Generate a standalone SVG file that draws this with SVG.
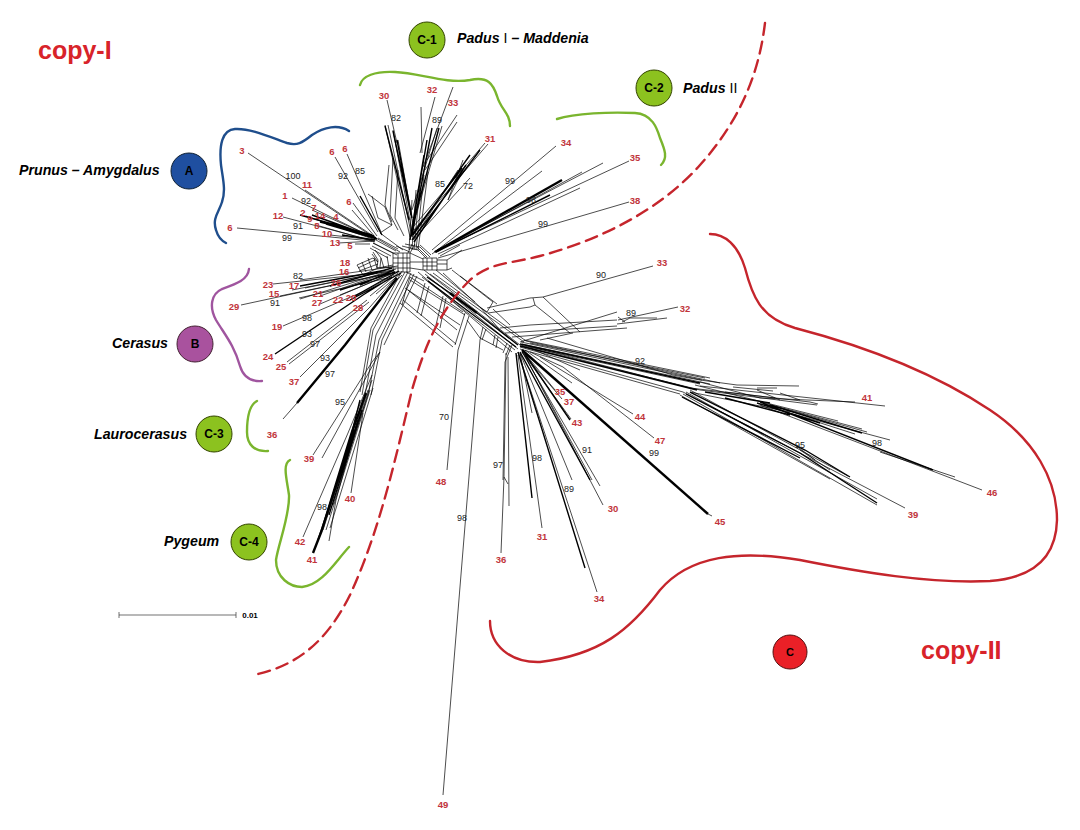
<svg xmlns="http://www.w3.org/2000/svg" width="1080" height="830" viewBox="0 0 1080 830">
<style>
text{font-family:"Liberation Sans",Arial,sans-serif}
.r{fill:#c1353b;font-size:9.5px;font-weight:bold;text-anchor:middle}
.k{fill:#222;font-size:9px;text-anchor:middle}
.n{fill:#000;font-size:14.2px;font-weight:bold;font-style:italic}
.b{fill:#000;font-size:12px;font-weight:bold;text-anchor:middle}
.cp{fill:#d8232a;font-size:25px;font-weight:bold}
.c{stroke:#333;stroke-width:.7}
.w{fill:none;stroke:#000;stroke-width:.7}
.m{fill:none;stroke:#000;stroke-width:1.4}
.h{fill:none;stroke:#000;stroke-width:2.4}
.cv{fill:none;stroke-width:2.4;stroke-linecap:round}
</style>
<rect width="1080" height="830" fill="#fff"/>
<g id="connectors">
<!-- A bundle -->
<path class="w" d="M248 153L373 237M305 190L376 238M292 198L372 237M312 210L377 239M306 216L376 240M283 217L374 241M237 228L372 241M316 225L375 242M330 235L375 240M338 243L375 241M355 244L370 244M335 157L378 232M347 154L381 232M353 203L377 236M352 210L376 238M368 194L385 207L392 225L380 233M372 196L378 218L392 225M380 233L403 250M376 238L400 252M373 243L397 255"/>
<path class="m" d="M360 196L382 235M312 215L376 238M326 224L377 239M342 235L375 240M320 222L374 236M300 215L372 235"/>
<!-- C-1 -->
<path class="w" d="M387 100L397 143M385 125L410 237M388 125L412 237M393 130L413 237M398 140L414 230M389 165L385 205L392 222M393 158L390 215L398 230M398 170L395 218L404 236M412 200L409 250M416 190L412 250M420 185L414 250M424 175L416 250M428 172L418 250M421 107L422 153M435 97L420 153M453 87L423 167M457 115L427 160M457 122L425 170M437 128L412 210M442 126L416 215"/>
<path class="m" d="M385 126L409 220M393 131L411 215M397 140L412 218M432 128L412 235M439 128L414 220M427 140L411 235M424 155L410 240"/>
<path class="w" d="M485 143L413 227M488 144L414 230M470 178L413 240M463 160L448 200M463 170L448 200M458 170L414 238"/>
<path class="m" d="M480 150L412 240M466 165L414 242M462 168L411 236M470 155L413 235"/>
<!-- C-2 -->
<path class="w" d="M556 146L432 250M542 171L432 254M629 161L434 252M603 163L437 250M582 172L436 252M580 188L438 254M629 202L438 258"/>
<path class="h" d="M562 180L435 252"/>
<path class="m" d="M550 195L436 252"/>
<!-- hub -->
<path class="w" d="M393 253H410V272H393ZM393 258H410M393 263H410M393 268H410M398 253V272M403 253V272M407 253V272M423 258H437V270H423ZM423 262H437M423 266H437M427 258V270M432 258V270M437 260L447 260V270L437 270M437 264H447"/>
<path class="w" d="M373 243L393 253M376 240L396 251M378 238L398 249M372 246L391 256M370 248L388 258M373 252L378 260L377 268L393 267M375 250L381 258L380 267M372 254L378 262M357 265L373 258L378 262M358 268L375 260M359 271L378 264M363 275L378 268L393 265M363 275L357 265M362 262L366 272M368 258L372 270M374 258L377 268M381 258L384 268M387 256L389 268M396 246L410 252M402 246L418 250L426 258M405 244L420 247L430 257M417 247L427 257M420 245L431 255M410 253L423 259M410 262L423 262M410 268L423 270M406 272L424 281M412 244L408 253M415 244L410 253M447 260L462 250M440 256L460 245M447 270L452 268"/>
<!-- B bundle -->
<path class="w" d="M273 284L377 273M241 305L380 275M292 290L384 272M280 296L386 274M300 280L398 266M305 288L392 270M300 299L396 269M299 298L388 278M320 296L391 271M320 304L395 272M340 295L394 273M283 326L367 290L394 275M287 362L367 300M289 364L369 302M300 377L370 307L396 277M283 419L297 403M370 296L398 273M376 294L400 274M380 298L402 275"/>
<path class="m" d="M275 354L363 295L392 277M300 286L386 270M330 286L392 268M355 296L399 271M350 300L401 273M340 290L395 272M360 285L394 270"/>
<path class="h" d="M297 403L345 345L397 278"/>
<!-- C-3/4 -->
<path class="w" d="M405 272L373 330L362 395M408 272L376 335L365 395M411 273L379 340L368 395M402 271L371 328L360 392M414 274L382 340L371 395M417 276L384 345M313 455L372 362L380 352M322 458L380 352M303 537L348 433L372 375M329 541L336 500L362 405M351 493L363 413M323 530L368 390M326 530L370 390M330 528L373 388M333 505L372 380M340 480L368 395"/>
<path class="h" d="M322 530L352 432L366 393M313 553L322 530"/>
<path class="m" d="M318 540L354 430M360 400L350 440M326 518L358 420M329 515L362 410"/>
<!-- web below main band -->
<path class="w" d="M410 277L463 312M410 280L465 315M408 290L457 330M405 288L460 325M400 303L453 347M403 300L456 344M425 283L417 313M429 286L421 316M465 313L455 345M469 316L458 350M443 296L436 325M446 298L440 328M410 277L406 290L402 305M458 350L447 470M467 320L480 338M480 338L503 350M483 327L480 340L472 440L443 795M486 329L482 340M495 335L493 345M498 337L496 348M507 343L503 353M510 345L506 355"/>
<!-- main band -->
<path class="h" d="M450 293L477 313"/>
<path class="m" d="M427 277L450 293M477 313L518 345M428 281L516 347"/>
<path class="w" d="M424 270L520 345M425 274L518 349M430 274L524 342M422 277L515 350M418 272L512 352M433 273L526 341"/>
<!-- upper-right web -->
<path class="w" d="M452 270L493 302M443 273L480 307M436 270L475 302M460 276L497 304M480 307L487 312L493 302M487 308L530 298L543 297L580 332M488 313L530 307L535 305L570 333M533 298L535 305M543 297L653 266M480 307L500 330M493 309L510 325M500 328L530 325L617 320M505 333L617 326M512 337L627 328M520 342L617 312M540 340L573 333M618 320L678 307M622 322L630 318L657 318M617 324L667 318M618 317L625 322M547 338L673 375L700 380L737 385L799 386"/>
<!-- right fan -->
<path class="w" d="M520 345L700 384M520 347L683 392M520 349L680 394M521 342L702 380M524 340L710 378M522 344L710 384M522 346L700 390M526 341L720 383M530 343L705 378M528 346L690 388M690 388L810 402L818 404M733 387L773 391M757 388L777 388M757 390L780 400M780 393L800 400M700 382L760 398L855 402M700 386L885 406M700 390L817 405M725 392L775 398M695 385L838 421M760 402L862 429M770 405L867 432M780 410L855 434M785 412L890 440M760 405L982 490M880 452L955 477M690 392L790 412"/>
<path class="m" d="M520 344L700 383M520 346L697 390M770 405L862 433M760 402L933 470M757 403L820 423M705 392L770 403M725 398L790 415"/>
<path class="w" d="M683 392L905 508M683 394L877 505M686 392L877 499M690 390L848 476M680 395L830 479M795 445L815 460M800 450L830 470"/>
<path class="m" d="M686 394L800 453M682 397L800 458M800 453L877 503M805 450L850 477M690 392L805 450"/>
<!-- lower fan -->
<path class="w" d="M540 357L633 414M563 367L654 438M522 352L571 419M522 352L562 399M522 350L555 390M522 350L603 505M522 352L600 486M525 356L592 480M520 353L572 480M520 353L532 413M518 355L542 528M518 352L597 592M506 353L504 477L501 553M504 477L508 484M508 357L509 506M512 345L505 362L503 480M563 367L530 352M530 348L580 370M525 350L572 383"/>
<path class="h" d="M522 350L708 514"/>
<path class="w" d="M708 514L712 516"/>
<path class="m" d="M518 352L585 568M516 353L532 498M520 352L590 480M525 354L570 420"/>
<path class="c" d="M119 615H236M119 612V618M236 612V618"/>
</g>
<g id="clade-curves">
<path class="cv" stroke="#1f4e8c" d="M349 131C338 124 324 127 312 135C302 143 297 146 287 143C270 137 250 128 235 129C222 130 219 145 221 165C223 180 226 190 222 202C219 212 212 218 216 230C218 237 222 241 226 243"/>
<path class="cv" stroke="#a0559f" d="M249 269C248 280 236 284 222 289C211 294 209 307 216 320C225 335 234 345 240 366C243 376 250 382 262 381"/>
<path class="cv" stroke="#7ab52e" d="M360 85C362 76 375 71 395 72C420 73 445 84 470 80C488 76 493 84 497 96C501 110 510 113 510 126"/>
<path class="cv" stroke="#7ab52e" d="M557 119C575 113 610 112 635 113C652 114 657 128 660 138C665 150 668 158 661 165"/>
<path class="cv" stroke="#7ab52e" d="M257 401C249 405 247 420 247 432C247 445 255 452 268 451"/>
<path class="cv" stroke="#7ab52e" d="M290 460C282 464 287 480 289 495C290 515 278 545 276 560C276 578 290 587 302 587C322 585 335 562 349 547"/>
<path class="cv" stroke="#c5252c" stroke-dasharray="12 7" d="M765 23C760 65 745 115 700 165C660 210 600 240 540 256C510 264 490 262 470 280C440 310 425 345 412 390C395 460 380 530 350 595C325 645 295 665 258 674"/>
<path class="cv" stroke="#c5252c" d="M710 234C725 234 738 245 745 268C752 295 760 318 795 328C860 345 930 370 990 410C1035 440 1057 480 1057 520C1056 560 1030 578 990 581C930 584 860 572 800 560C740 550 690 555 660 590C630 630 600 655 540 662C510 663 490 645 490 621"/>
</g>
<g id="title-copy-i"><text class="cp" x="38" y="59">copy-I</text></g>
<g id="title-copy-ii"><text class="cp" x="921" y="659">copy-II</text></g>
<g id="node-a"><circle cx="189" cy="171" r="18" fill="#1f4fa0" stroke="#123"/><text class="b" x="189" y="175">A</text><text class="n" x="19" y="175">Prunus – Amygdalus</text></g>
<g id="node-b"><circle cx="195" cy="344" r="18" fill="#a9529e" stroke="#423"/><text class="b" x="195" y="348">B</text><text class="n" x="112" y="348">Cerasus</text></g>
<g id="node-c1"><circle cx="427" cy="40" r="18" fill="#8cc21f" stroke="#340"/><text class="b" x="427" y="44">C-1</text><text class="n" x="457" y="43">Padus <tspan font-style="normal" font-weight="normal">I</tspan> – Maddenia</text></g>
<g id="node-c2"><circle cx="654" cy="88" r="18" fill="#8cc21f" stroke="#340"/><text class="b" x="654" y="92">C-2</text><text class="n" x="683" y="93">Padus <tspan font-style="normal" font-weight="normal">II</tspan></text></g>
<g id="node-c3"><circle cx="214" cy="434" r="18" fill="#8cc21f" stroke="#340"/><text class="b" x="214" y="438">C-3</text><text class="n" x="94" y="439">Laurocerasus</text></g>
<g id="node-c4"><circle cx="249" cy="542" r="18" fill="#8cc21f" stroke="#340"/><text class="b" x="249" y="546">C-4</text><text class="n" x="164" y="546">Pygeum</text></g>
<g id="node-c"><circle cx="790" cy="652" r="17" fill="#ea2027" stroke="#511"/><text class="b" x="790" y="656" style="font-size:11px">C</text></g>
<g id="scale"><text x="250" y="618" style="font-size:8px;font-weight:bold;text-anchor:middle;fill:#000">0.01</text></g>
<g id="labels-red">
<text class="r" x="242" y="154">3</text><text class="r" x="332" y="155">6</text><text class="r" x="345" y="152">6</text><text class="r" x="349" y="205">6</text><text class="r" x="230" y="231">6</text><text class="r" x="307" y="188">11</text><text class="r" x="285" y="199">1</text><text class="r" x="314" y="211">7</text><text class="r" x="303" y="216">2</text><text class="r" x="310" y="222">9</text><text class="r" x="320" y="219">14</text><text class="r" x="336" y="220">4</text><text class="r" x="278" y="219">12</text><text class="r" x="317" y="229">8</text><text class="r" x="327" y="237">10</text><text class="r" x="335" y="246">13</text><text class="r" x="350" y="249">5</text>
<text class="r" x="384" y="99">30</text><text class="r" x="432" y="93">32</text><text class="r" x="453" y="106">33</text><text class="r" x="490" y="142">31</text><text class="r" x="566" y="146">34</text><text class="r" x="635" y="161">35</text><text class="r" x="635" y="204">38</text>
<text class="r" x="345" y="266">18</text><text class="r" x="344" y="275">16</text><text class="r" x="336" y="286">26</text><text class="r" x="268" y="288">23</text><text class="r" x="294" y="289">17</text><text class="r" x="274" y="297">15</text><text class="r" x="234" y="310">29</text><text class="r" x="318" y="297">21</text><text class="r" x="317" y="306">27</text><text class="r" x="338" y="303">22</text><text class="r" x="351" y="301">20</text><text class="r" x="358" y="311">28</text><text class="r" x="277" y="330">19</text><text class="r" x="268" y="360">24</text><text class="r" x="281" y="370">25</text><text class="r" x="294" y="385">37</text><text class="r" x="272" y="438">36</text><text class="r" x="309" y="462">39</text><text class="r" x="350" y="502">40</text><text class="r" x="300" y="545">42</text><text class="r" x="312" y="563">41</text>
<text class="r" x="441" y="485">48</text><text class="r" x="443" y="808">49</text><text class="r" x="501" y="563">36</text><text class="r" x="542" y="540">31</text><text class="r" x="599" y="602">34</text><text class="r" x="613" y="512">30</text><text class="r" x="720" y="525">45</text><text class="r" x="560" y="395">35</text><text class="r" x="569" y="405">37</text><text class="r" x="577" y="426">43</text><text class="r" x="640" y="420">44</text><text class="r" x="660" y="444">47</text><text class="r" x="662" y="266">33</text><text class="r" x="685" y="312">32</text><text class="r" x="867" y="401">41</text><text class="r" x="913" y="518">39</text><text class="r" x="992" y="496">46</text>
</g>
<g id="labels-support">
<text class="k" x="293" y="179">100</text><text class="k" x="306" y="204">92</text><text class="k" x="343" y="179">92</text><text class="k" x="360" y="174">85</text><text class="k" x="298" y="229">91</text><text class="k" x="287" y="241">99</text><text class="k" x="396" y="121">82</text><text class="k" x="437" y="123">89</text><text class="k" x="440" y="187">85</text><text class="k" x="468" y="189">72</text><text class="k" x="510" y="184">99</text><text class="k" x="531" y="203">98</text><text class="k" x="543" y="227">99</text>
<text class="k" x="298" y="279">82</text><text class="k" x="275" y="306">91</text><text class="k" x="307" y="321">98</text><text class="k" x="307" y="337">93</text><text class="k" x="315" y="347">97</text><text class="k" x="325" y="361">93</text><text class="k" x="330" y="377">97</text><text class="k" x="340" y="405">95</text><text class="k" x="322" y="510">98</text>
<text class="k" x="444" y="420">70</text><text class="k" x="462" y="521">98</text><text class="k" x="498" y="468">97</text><text class="k" x="537" y="461">98</text><text class="k" x="569" y="492">89</text><text class="k" x="587" y="453">91</text><text class="k" x="654" y="456">99</text><text class="k" x="601" y="278">90</text><text class="k" x="631" y="316">89</text><text class="k" x="640" y="364">92</text><text class="k" x="800" y="448">95</text><text class="k" x="877" y="446">98</text>
</g>
</svg>
